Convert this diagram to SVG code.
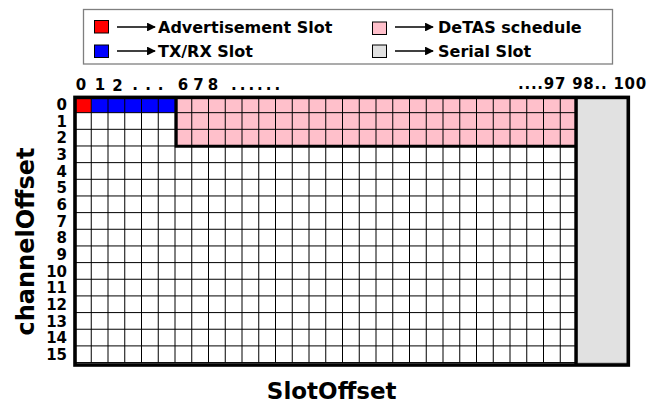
<svg xmlns="http://www.w3.org/2000/svg" width="659" height="402" viewBox="0 0 659 402">
<style>
text{font-family:"DejaVu Sans","Noto Sans",sans-serif;font-weight:bold;fill:#000}
.leg{font-size:16px}
.col{font-size:15px}
.row{font-size:15px;text-anchor:end}
.sq{stroke:#000;stroke-width:1}
.arr{stroke:#000;stroke-width:1.7;fill:none;marker-end:url(#ah)}
.thin{stroke:#000;stroke-width:1;fill:none}
.thick{stroke:#000;fill:none}
</style>
<defs>
<marker id="ah" viewBox="0 0 10 10" refX="9" refY="5" markerWidth="5.6" markerHeight="5.2" markerUnits="strokeWidth" orient="auto">
<path d="M0,0L10,5L0,10z" fill="#000"/>
</marker>
</defs>
<rect width="659" height="402" fill="#fff"/>
<g id="legend">
<rect x="83.5" y="9.5" width="529" height="54.5" fill="#fff" stroke="#7f7f7f" stroke-width="1.3"/>
<g id="leg-adv">
<rect class="sq" x="94.5" y="20.5" width="14" height="12.5" fill="#ff0000"/>
<line class="arr" x1="117" y1="27" x2="155" y2="27"/>
<text class="leg" x="158" y="33">Advertisement Slot</text>
</g>
<g id="leg-txrx">
<rect class="sq" x="94.5" y="45" width="14" height="12.5" fill="#0000ff"/>
<line class="arr" x1="117" y1="51" x2="155" y2="51"/>
<text class="leg" x="158" y="57">TX/RX Slot</text>
</g>
<g id="leg-detas">
<rect class="sq" x="372.5" y="22" width="14" height="12.5" fill="#ffc0cb"/>
<line class="arr" x1="395" y1="27" x2="433" y2="27"/>
<text class="leg" x="438" y="33">DeTAS schedule</text>
</g>
<g id="leg-serial">
<rect class="sq" x="372.5" y="45" width="14" height="12.5" fill="#e1e1e1"/>
<line class="arr" x1="395" y1="51" x2="433" y2="51"/>
<text class="leg" x="438" y="57">Serial Slot</text>
</g>
</g>
<g id="col-labels" class="col">
<text x="81" y="90" text-anchor="middle">0</text>
<text x="100" y="90" text-anchor="middle">1</text>
<text x="117.5" y="90.5" text-anchor="middle">2</text>
<text x="135" y="90" text-anchor="middle">.</text>
<text x="148" y="90" text-anchor="middle">.</text>
<text x="160.5" y="90" text-anchor="middle">.</text>
<text x="183" y="89.5" text-anchor="middle">6</text>
<text x="198.5" y="89.5" text-anchor="middle">7</text>
<text x="213" y="89.5" text-anchor="middle">8</text>
<text x="231" y="89.5" letter-spacing="3">......</text>
<text x="518" y="88.5" letter-spacing="0.75">....97 98.. 100</text>
</g>
<g id="row-labels" class="row">
<text x="67" y="109.8">0</text>
<text x="67" y="126.5">1</text>
<text x="67" y="143.1">2</text>
<text x="67" y="159.8">3</text>
<text x="67" y="176.5">4</text>
<text x="67" y="193.1">5</text>
<text x="67" y="209.8">6</text>
<text x="67" y="226.5">7</text>
<text x="67" y="243.1">8</text>
<text x="67" y="259.8">9</text>
<text x="67" y="276.5">10</text>
<text x="67" y="293.1">11</text>
<text x="67" y="309.8">12</text>
<text x="67" y="326.5">13</text>
<text x="67" y="343.1">14</text>
<text x="67" y="359.8">15</text>
</g>
<text id="y-title" transform="translate(33.5,241.5) rotate(-90)" text-anchor="middle" font-size="24">channelOffset</text>
<text id="x-title" x="331.7" y="398.5" text-anchor="middle" font-size="23">SlotOffset</text>
<g id="grid">
<rect x="74.5" y="96" width="502.5" height="266.6" fill="#fff"/>
<rect id="adv-cell" x="74.5" y="96" width="16.75" height="16.66" fill="#ff0000"/>
<rect id="txrx-cells" x="91.25" y="96" width="83.75" height="16.66" fill="#0000ff"/>
<rect id="detas" x="175" y="96" width="402" height="49.98" fill="#ffc0cb"/>
<rect id="serial" x="577.5" y="97" width="50" height="266" fill="#e1e1e1" stroke="#999" stroke-width="1"/>
<path class="thin" d="M91.25 96V362.6M108 96V362.6M124.75 96V362.6M141.5 96V362.6M158.25 96V362.6M175 96V362.6M191.75 96V362.6M208.5 96V362.6M225.25 96V362.6M242 96V362.6M258.75 96V362.6M275.5 96V362.6M292.25 96V362.6M309 96V362.6M325.75 96V362.6M342.5 96V362.6M359.25 96V362.6M376 96V362.6M392.75 96V362.6M409.5 96V362.6M426.25 96V362.6M443 96V362.6M459.75 96V362.6M476.5 96V362.6M493.25 96V362.6M510 96V362.6M526.75 96V362.6M543.5 96V362.6M560.25 96V362.6"/>
<path class="thin" d="M74.5 112.66H577M74.5 129.32H577M74.5 145.98H577M74.5 162.64H577M74.5 179.3H577M74.5 195.96H577M74.5 212.62H577M74.5 229.28H577M74.5 245.94H577M74.5 262.6H577M74.5 279.26H577M74.5 295.92H577M74.5 312.58H577M74.5 329.24H577M74.5 345.9H577M74.5 362.56H577"/>
<path class="thick" stroke-width="3" d="M176.2 97V147.5M174.7 146.2H577"/>
<path class="thick" stroke-width="3.4" d="M576 97V365"/>
<rect class="thick" x="75" y="97.4" width="553.3" height="267.6" stroke-width="3.6"/>
</g>
</svg>
